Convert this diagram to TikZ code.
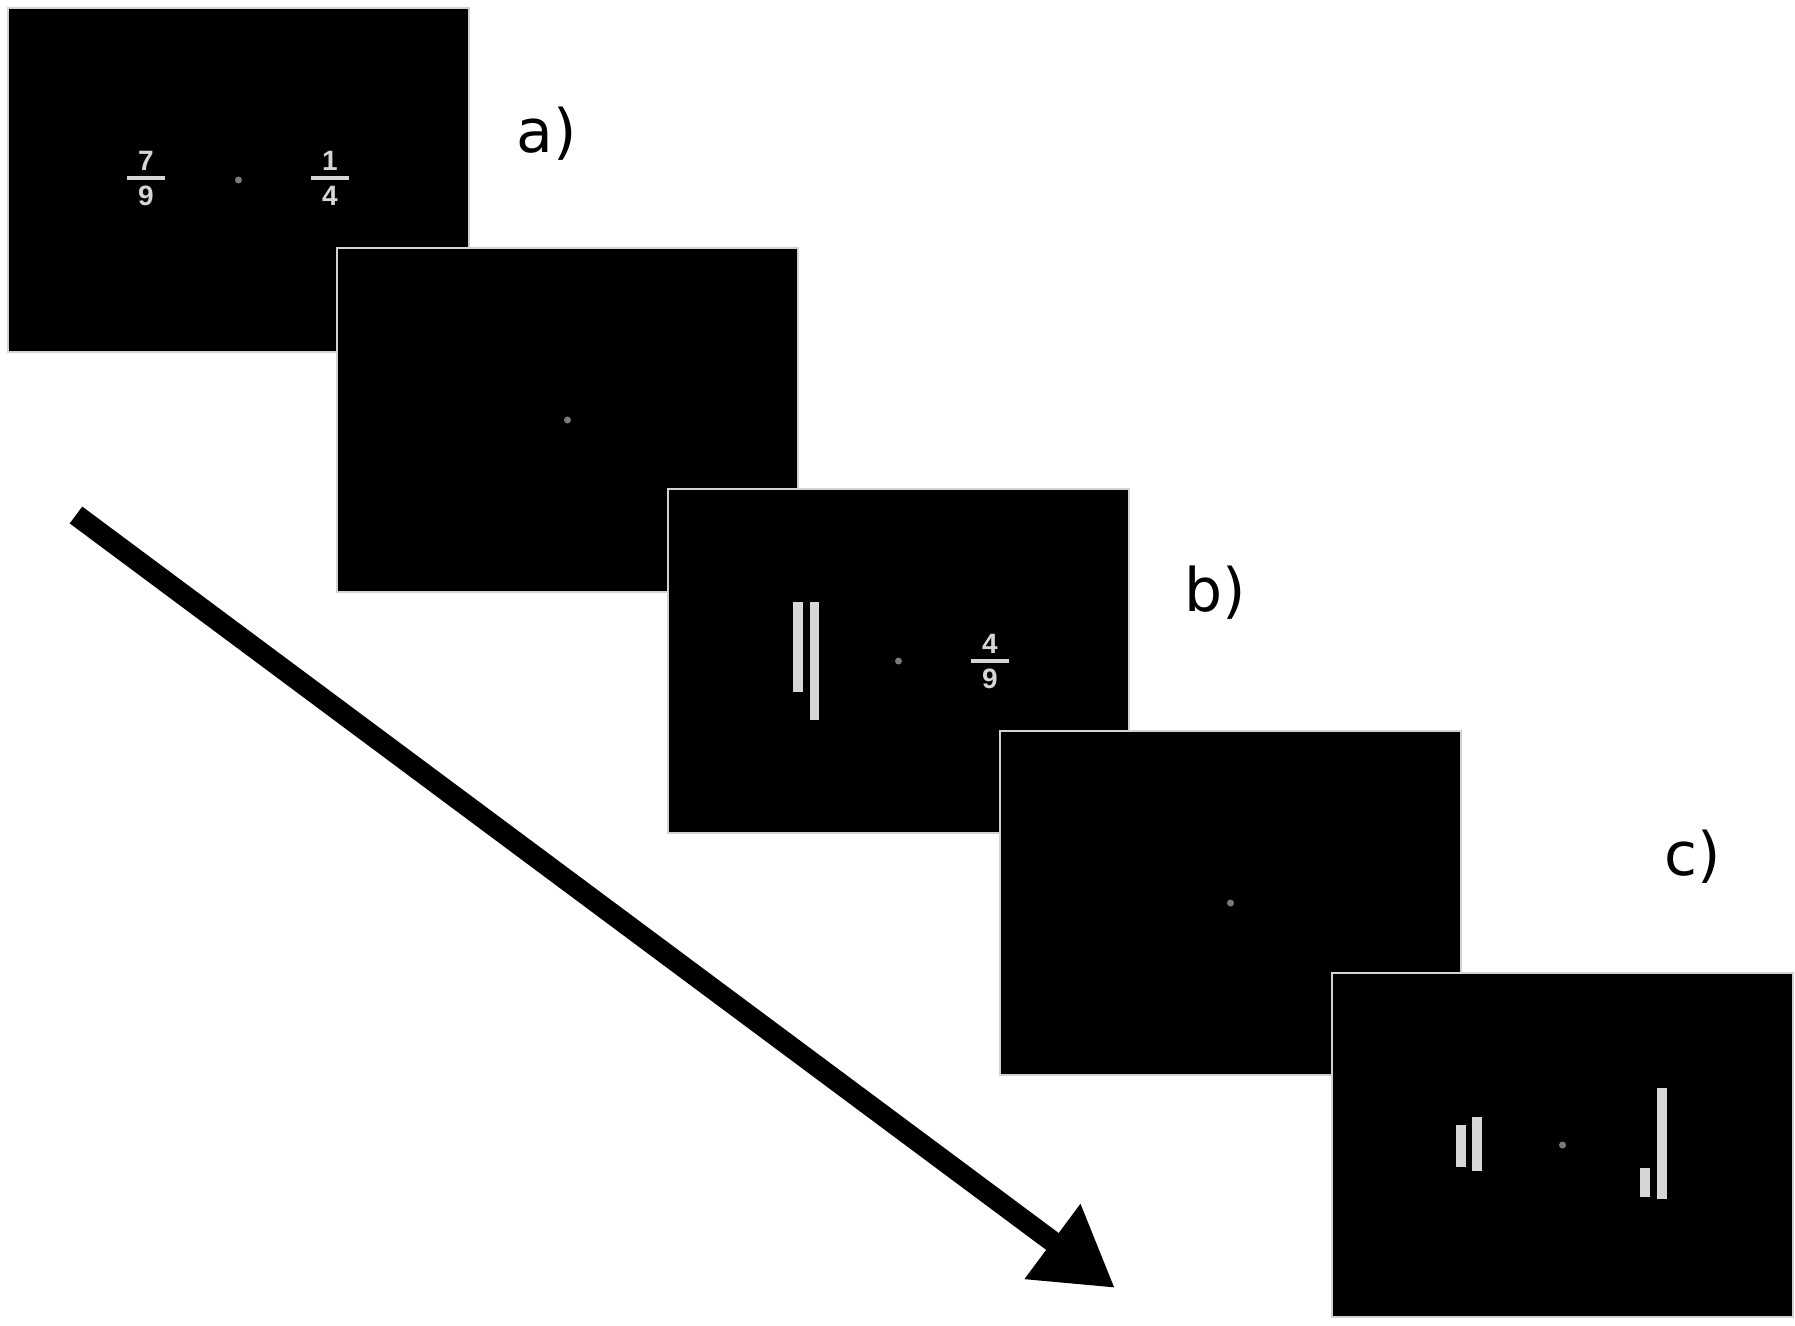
\documentclass[tikz,border=0pt]{standalone}
\usepackage{fontspec}
\setmainfont{DejaVu Sans}
\newfontfamily\digitfont{Liberation Sans}
\usetikzlibrary{arrows.meta}
\definecolor{stim}{HTML}{D6D6D6}
\definecolor{fixdot}{HTML}{7A7A7A}
\definecolor{frame}{HTML}{D2D2D2}
\newcommand{\stimfrac}[5]{%
  \node[digit] (#1n) at (#2,#3-17) {#4};
  \node[digit] (#1d) at (#2,#3+18) {#5};
  \fill[stim] (#2-19,#3-1.6) rectangle (#2+19,#3+1.6);
}
\begin{document}
\begin{tikzpicture}[x=1pt,y=-1pt,
  screen/.style={draw=frame, line width=2pt, fill=black, rectangle, anchor=north west,
    minimum width=461pt, minimum height=344pt, inner sep=0pt},
  digit/.style={text=stim, font=\digitfont\bfseries\fontsize{28}{30}\selectfont, inner sep=0pt},
  tag/.style={font=\fontsize{60}{70}\selectfont, inner sep=0pt},
  fix/.style={fill=fixdot},
  bar/.style={fill=stim}]
\useasboundingbox (0,0) rectangle (1795,1325);
\fill[white] (0,0) rectangle (1795,1325);

% screen 1
\node[screen] (s1) at (7,7) {};
\fill[fix] (s1.center) circle[radius=3.5pt];
\stimfrac{fa}{146}{178}{7}{9}
\stimfrac{fb}{330}{178}{1}{4}

% screen 2
\node[screen] (s2) at (336,247) {};
\fill[fix] (s2.center) circle[radius=3.5pt];

% screen 3
\node[screen] (s3) at (667,488) {};
\fill[fix] (s3.center) circle[radius=3.5pt];
\fill[bar] (793,602) rectangle (803,692);
\fill[bar] (810,602) rectangle (819,720);
\stimfrac{fc}{990}{661}{4}{9}

% screen 4
\node[screen] (s4) at (999,730) {};
\fill[fix] (s4.center) circle[radius=3.5pt];

% screen 5
\node[screen] (s5) at (1331,972) {};
\fill[fix] (s5.center) circle[radius=3.5pt];
\fill[bar] (1456,1125) rectangle (1466,1167);
\fill[bar] (1472,1117) rectangle (1482,1171);
\fill[bar] (1640,1168) rectangle (1650,1197);
\fill[bar] (1657,1088) rectangle (1667,1199);

% labels
\node[tag] (la) at (547,134) {a)};
\node[tag] (lb) at (1215,593) {b)};
\node[tag] (lc) at (1693,857) {c)};

% time arrow
\coordinate (tail) at (76,515);
\coordinate (tip) at (1115,1288);
\draw[line width=21pt, -{Triangle[length=78pt,width=88pt]}] (tail) -- (tip);
\end{tikzpicture}
\end{document}
